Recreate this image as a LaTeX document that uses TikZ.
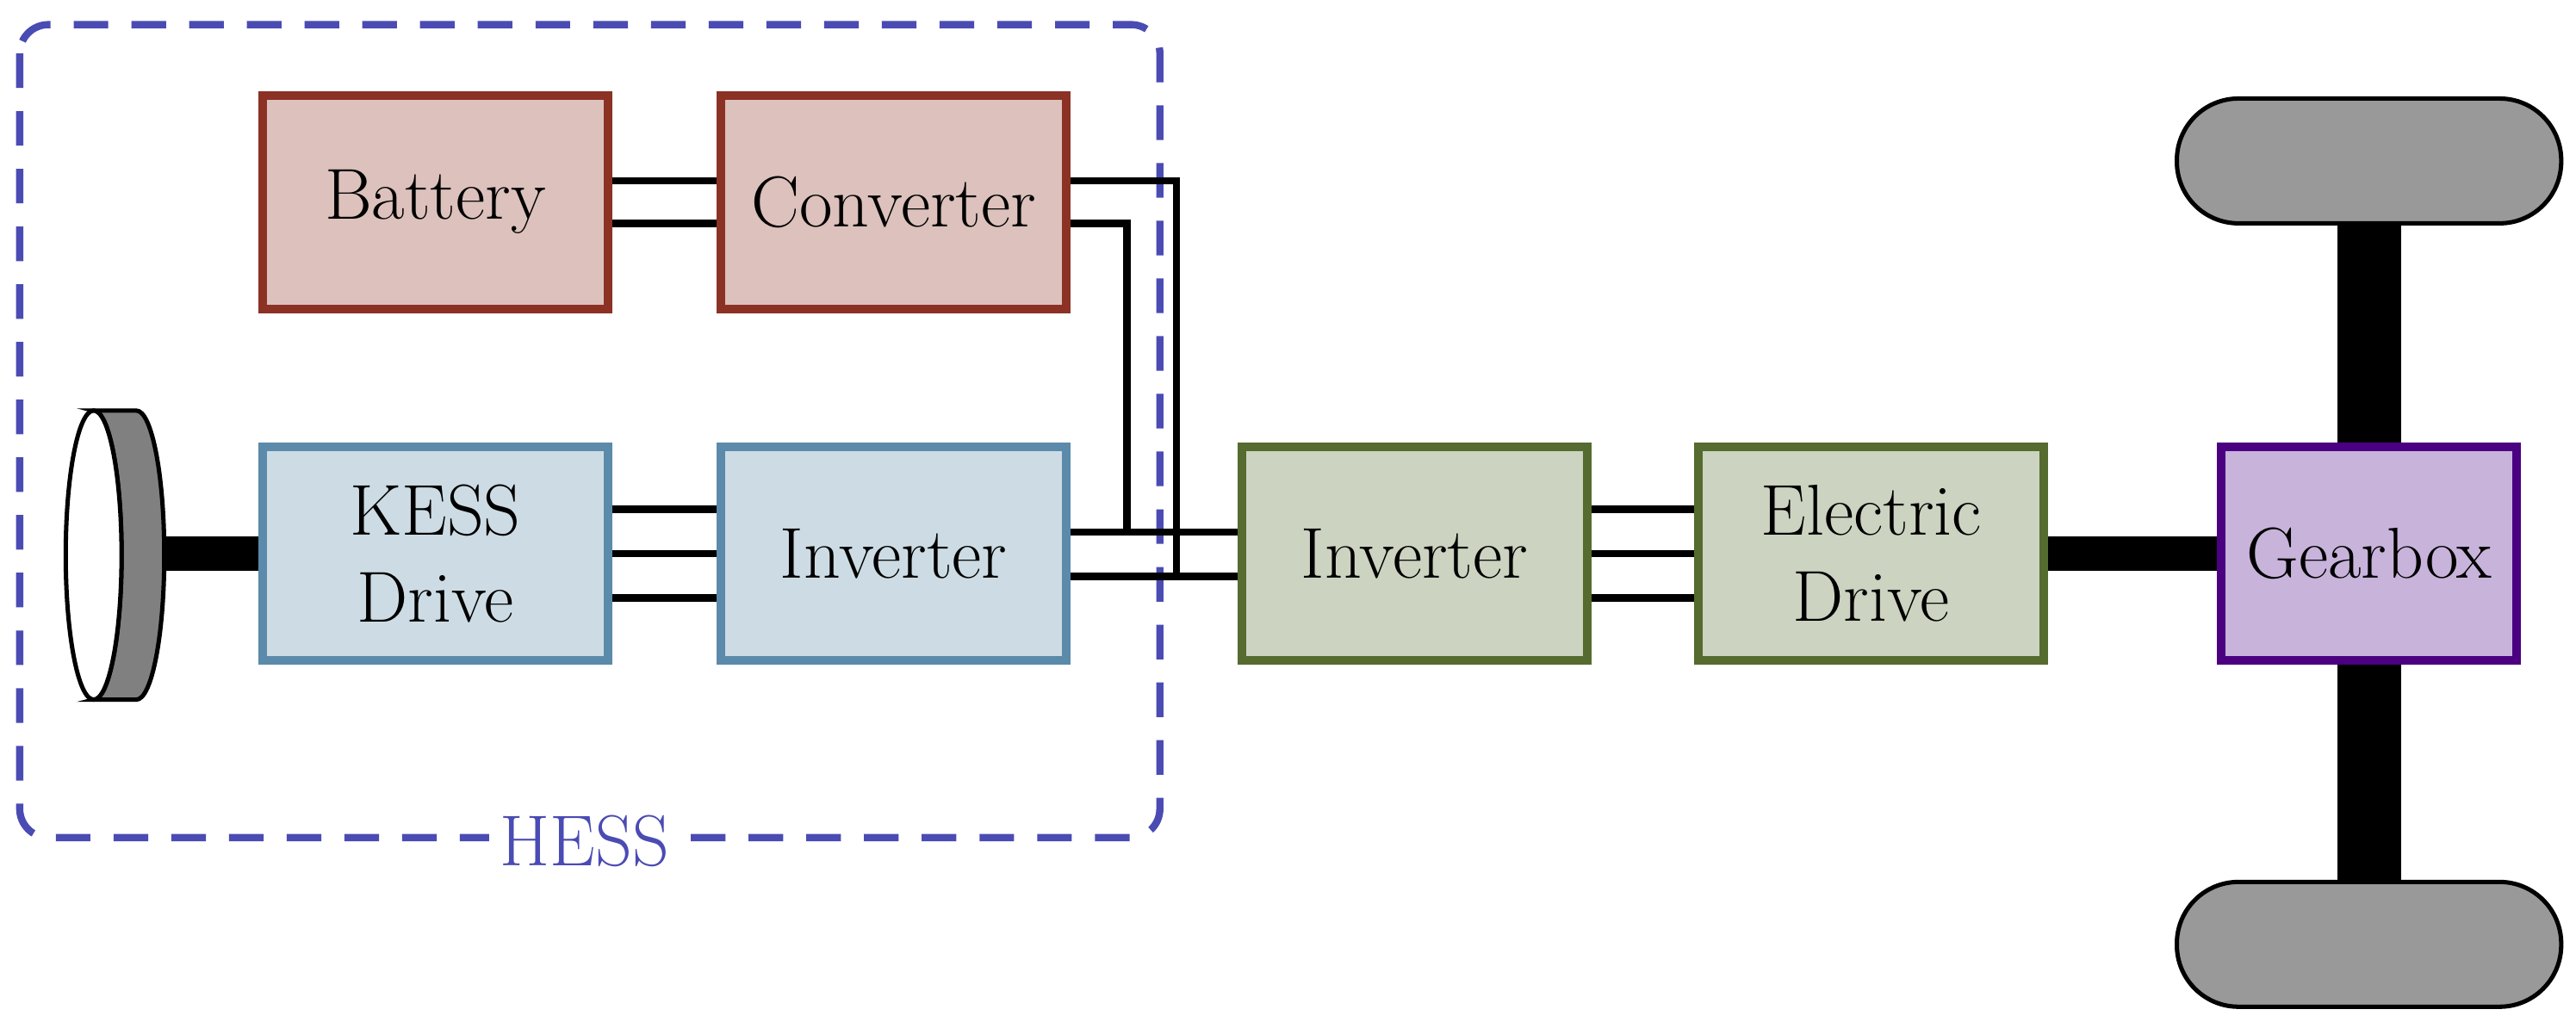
\documentclass[tikz,border=0pt]{standalone}
\usepackage{tikz}
\usetikzlibrary{positioning}
\definecolor{hessblue}{HTML}{4B4BB4}
\definecolor{batfill}{HTML}{DCC1BC}
\definecolor{batline}{HTML}{8B3225}
\definecolor{kessfill}{HTML}{CDDCE4}
\definecolor{kessline}{HTML}{5B8AAA}
\definecolor{drvfill}{HTML}{CCD3C0}
\definecolor{drvline}{HTML}{556B2F}
\definecolor{gearfill}{HTML}{C8B3DB}
\definecolor{gearline}{HTML}{4B0082}
\tikzset{
    block/.style={draw, line width=3pt, minimum width=4.2cm, minimum height=2.6cm,
        align=center, font=\fontsize{25}{30}\selectfont, inner sep=0pt},
    battery/.style={block, fill=batfill, draw=batline},
    kess/.style={block, fill=kessfill, draw=kessline},
    drive/.style={block, fill=drvfill, draw=drvline},
    gear/.style={block, fill=gearfill, draw=gearline, minimum width=3.6cm},
    wheel/.style={draw, line width=1.5pt, fill=black!40, rounded corners=0.75cm,
        minimum width=4.68cm, minimum height=1.52cm},
    wire/.style={line width=2.5pt},
    shaft/.style={line width=12pt},
}
\begin{document}
\begin{tikzpicture}[x=0.02cm, y=-0.02cm]
    \useasboundingbox (0,0) rectangle (1568,625.5);
    % HESS
    \draw[hessblue, line width=2.5pt, dash pattern=on 12pt off 8pt, rounded corners=0.35cm]
        (12,15) rectangle (706,510);
    \node[fill=white, text=hessblue, font=\fontsize{25}{30}\selectfont, inner sep=4pt] (hess) at (356,512) {HESS};
    % blocks
    \node[battery] (bat) at (265,123) {Battery};
    \node[battery] (conv) at (544,123) {Converter};
    \node[kess] (kdrive) at (265,337) {KESS\\Drive};
    \node[kess] (kinv) at (544,337) {Inverter};
    \node[drive] (inv) at (861,337) {Inverter};
    \node[drive] (edrive) at (1139,337) {Electric\\Drive};
    \node[gear] (gbox) at (1442,337) {Gearbox};
    \node[wheel] (wtop) at (1442,98) {};
    \node[wheel] (wbot) at (1442,575) {};
    % flywheel
    \coordinate (fly) at (100,337);
    \fill[black!50, draw=black, line width=1.5pt] (57,250) -- (83,250) arc[start angle=90, end angle=-90, x radius=17, y radius=-88]
        -- (57,426) arc[start angle=-90, end angle=90, x radius=17, y radius=-88] -- cycle;
    \draw[fill=white, line width=1.5pt] (57,338) ellipse[x radius=17, y radius=-88];
    % shafts
    \draw[shaft] (fly) -- (kdrive.west);
    \draw[shaft] (edrive.east) -- (gbox.west);
    \draw[line width=22pt] (wtop.south) -- (gbox.north);
    \draw[line width=22pt] (gbox.south) -- (wbot.north);
    % wires
    \foreach \dy in {-13,13}
        \draw[wire] ([yshift=\dy*0.02cm]bat.east) -- ([yshift=\dy*0.02cm]conv.west);
    \foreach \dy in {-27,0,27}{
        \draw[wire] ([yshift=\dy*0.02cm]kdrive.east) -- ([yshift=\dy*0.02cm]kinv.west);
        \draw[wire] ([yshift=\dy*0.02cm]inv.east) -- ([yshift=\dy*0.02cm]edrive.west);
    }
    \draw[wire] ([yshift=0.26cm]kinv.east) -- ([yshift=0.26cm]inv.west);
    \draw[wire] ([yshift=-0.28cm]kinv.east) -- ([yshift=-0.28cm]inv.west);
    \draw[wire] ([yshift=0.26cm]conv.east) -| (716,351);
    \draw[wire] ([yshift=-0.26cm]conv.east) -| (686,323);
\end{tikzpicture}
\end{document}
